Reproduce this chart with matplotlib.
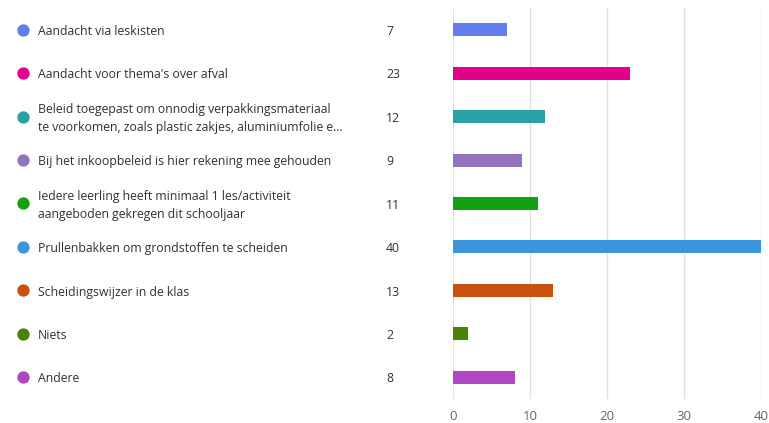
"""Horizontal bar chart: maatregelen rond afval op school."""
import numpy as np
import matplotlib
matplotlib.use("Agg")
import matplotlib.pyplot as plt
from matplotlib.transforms import blended_transform_factory, offset_copy

plt.rcParams['font.family'] = ['Open Sans', 'DejaVu Sans']

# --- Data ---
labels = [
    "Aandacht via leskisten",
    "Aandacht voor thema's over afval",
    "Beleid toegepast om onnodig verpakkingsmateriaal\nte voorkomen, zoals plastic zakjes, aluminiumfolie e...",
    "Bij het inkoopbeleid is hier rekening mee gehouden",
    "Iedere leerling heeft minimaal 1 les/activiteit\naangeboden gekregen dit schooljaar",
    "Prullenbakken om grondstoffen te scheiden",
    "Scheidingswijzer in de klas",
    "Niets",
    "Andere",
]
counts = [7, 23, 12, 9, 11, 40, 13, 2, 8]
colors = ["#637CEF", "#E3008C", "#2AA0A4", "#9373C0", "#13A10E",
          "#3A96DD", "#CA5010", "#498205", "#B146C2"]
xticks = [0, 10, 20, 30, 40]

W, H = 769, 423
fig = plt.figure(figsize=(W / 100, H / 100), dpi=100)
ax = fig.add_axes([453 / W, 1 - 399 / H, 308 / W, 391 / H])

y = np.arange(len(labels))
ax.barh(y, counts, height=0.3, color=colors, zorder=3)

ax.set_ylim(len(labels) - 0.5, -0.5)
ax.set_xlim(0, 40)
ax.set_xticks(xticks)
ax.set_yticks([])
ax.grid(axis='x', color='#e1e1e1', lw=1, zorder=0)
for s in ax.spines.values():
    s.set_visible(False)
ax.tick_params(axis='x', length=0, pad=8, labelsize=9.5, labelcolor='#666666')

# labels, dots and values on the left
tr = blended_transform_factory(fig.transFigure, ax.transData)
tr_txt = offset_copy(tr, fig=fig, y=-1.2, units='points')
for i, (lab, n, c) in enumerate(zip(labels, counts, colors)):
    ax.scatter([23 / W], [i], s=62, color=c, transform=tr, clip_on=False, zorder=4)
    ax.text(38 / W, i, lab, transform=tr_txt, va='center', ha='left',
            fontsize=8.8, color='#323130', linespacing=1.5)
    ax.text(386 / W, i, str(n), transform=tr_txt, va='center', ha='left',
            fontsize=8.8, color='#323130')

fig.savefig("out.png", dpi=100)
